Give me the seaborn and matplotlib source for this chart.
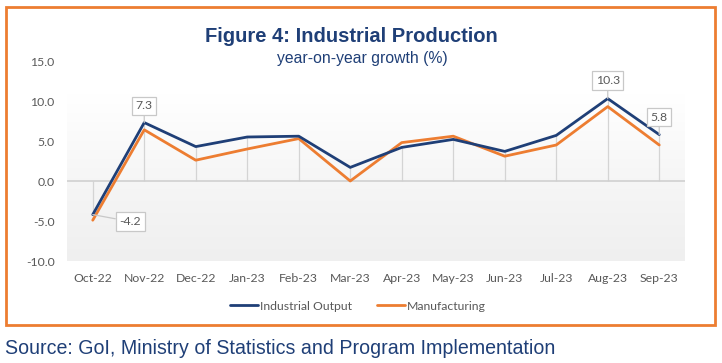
import numpy as np
import pandas as pd
import seaborn as sns
import matplotlib.pyplot as plt
from matplotlib.patches import Rectangle

months = ['Oct-22', 'Nov-22', 'Dec-22', 'Jan-23', 'Feb-23', 'Mar-23',
          'Apr-23', 'May-23', 'Jun-23', 'Jul-23', 'Aug-23', 'Sep-23']
industrial_output = [-4.2, 7.3, 4.3, 5.5, 5.6, 1.7, 4.2, 5.2, 3.7, 5.7, 10.3, 5.8]
manufacturing = [-4.9, 6.4, 2.6, 4.0, 5.3, 0.0, 4.8, 5.6, 3.1, 4.5, 9.3, 4.5]
y_ticks = [-10, -5, 0, 5, 10, 15]

navy = '#1f3f77'
orange = '#ed7d31'
gray_txt = '#595959'

sns.set_style('white')
plt.rcParams['font.family'] = ['Lato', 'DejaVu Sans']

pos = np.arange(len(months))
df = pd.DataFrame({
    'pos': np.concatenate([pos, pos]),
    'value': industrial_output + manufacturing,
    'series': ['Industrial Output'] * len(months) + ['Manufacturing'] * len(months),
})

fig = plt.figure(figsize=(7.22, 3.63), dpi=100)
ax = fig.add_axes([67 / 722, 1 - 261 / 363, (685 - 67) / 722, 200 / 363])

# gradient plot background
grad = np.linspace(0, 1, 256).reshape(-1, 1)
cmap = plt.matplotlib.colors.LinearSegmentedColormap.from_list('g', ['#efefef', '#f6f6f6', '#ffffff'])
ax.imshow(grad, extent=[-0.5, len(months) - 0.5, -10, 10.8], origin='lower',
          aspect='auto', cmap=cmap, zorder=0)

# drop lines
ax.vlines(pos, 0, industrial_output, color='#d4d4d4', lw=0.9, zorder=1)
ax.axhline(0, color='#d0d0d0', lw=1.2, zorder=1)

sns.lineplot(data=df, x='pos', y='value', hue='series', sort=False,
             palette=[navy, orange], linewidth=2.0, ax=ax, legend=False, zorder=3)
# keep industrial output on top
ax.lines[-2].set_zorder(4)

ax.set_xlim(-0.5, len(months) - 0.5)
ax.set_ylim(-10, 15)
ax.set_yticks(y_ticks)
ax.set_yticklabels([f'{v:.1f}' for v in y_ticks])
ax.set_xticks(pos)
ax.set_xticklabels(months)
ax.tick_params(axis='both', length=0, labelsize=8.8, colors=gray_txt)
ax.tick_params(axis='y', pad=9)
ax.tick_params(axis='x', pad=9)
ax.set_xlabel('')
ax.set_ylabel('')
for s in ax.spines.values():
    s.set_visible(False)

# data labels
box = dict(boxstyle='square,pad=0.3', fc='white', ec='#c8c8c8', lw=0.9)
ap = dict(arrowstyle='-', color='#c8c8c8', lw=0.9, shrinkA=0, shrinkB=0)
labels = {1: (0, 12), 10: (0, 13), 11: (0, 12.5), 0: (27, -5)}
for i, (dx, dy) in labels.items():
    v = industrial_output[i]
    ax.annotate(f'{v:.1f}', xy=(pos[i], v), xytext=(dx, dy), textcoords='offset points',
                ha='center', va='center', fontsize=8.8, color=gray_txt, bbox=box,
                arrowprops=ap, zorder=6)

# legend
handles = [plt.Line2D([], [], color=navy, lw=2), plt.Line2D([], [], color=orange, lw=2)]
fig.legend(handles, ['Industrial Output', 'Manufacturing'], loc='center',
           bbox_to_anchor=(358 / 722, 1 - 306 / 363), ncol=2, frameon=False,
           fontsize=8.8, handlelength=2.3, handletextpad=0.2, columnspacing=2.0,
           labelcolor=gray_txt)

# titles
fig.text(351 / 722, 1 - 36 / 363, 'Figure 4: Industrial Production', ha='center', va='center',
         fontsize=14.5, fontweight='bold', color=navy, family='Liberation Sans')
fig.text(362 / 722, 1 - 59 / 363, 'year-on-year growth (%)', ha='center', va='center',
         fontsize=11.3, color=navy, family='Liberation Sans')

# orange frame
fig.patches.append(Rectangle((6 / 722, 1 - 325 / 363), 709 / 722, 318 / 363,
                             transform=fig.transFigure, fill=False, ec=orange, lw=2))

fig.text(5 / 722, 1 - 348 / 363, 'Source: GoI, Ministry of Statistics and Program Implementation',
         ha='left', va='center', fontsize=14.1, color=navy, family='Liberation Sans')

fig.savefig('out.png', dpi=100)
